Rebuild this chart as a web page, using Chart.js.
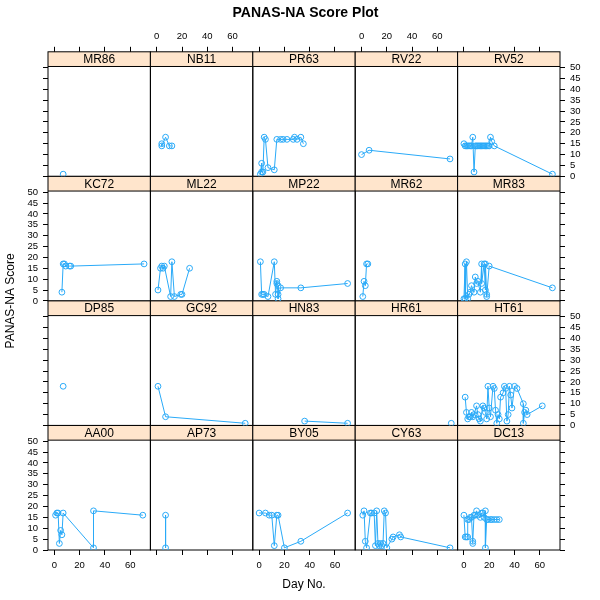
<!DOCTYPE html>
<html>
<head>
<meta charset="utf-8">
<title>PANAS-NA Score Plot</title>
<script src="https://cdn.jsdelivr.net/npm/chart.js@4.4.1/dist/chart.umd.min.js"></script>
<style>
  html, body { margin: 0; padding: 0; background: #fff; }
  #wrap { width: 600px; height: 600px; }
</style>
</head>
<body>
<div id="wrap"><canvas id="panasChart" width="600" height="600"></canvas></div>
<script>
// --- Data: one panel per subject, listed top row first, left to right
const subjects = [
  'MR86', 'NB11', 'PR63', 'RV22', 'RV52',
  'KC72', 'ML22', 'MP22', 'MR62', 'MR83',
  'DP85', 'GC92', 'HN83', 'HR61', 'HT61',
  'AA00', 'AP73', 'BY05', 'CY63', 'DC13'
];

const dayNo = [
  [7],
  [4, 4, 7, 10, 12],
  [1, 2, 2, 3, 4, 5, 7, 12, 14, 17, 19, 22, 27, 28, 30, 33, 35],
  [0, 6, 70],
  [0, 1, 2, 3, 4, 5, 6, 7, 8, 9, 10, 11, 12, 13, 14, 15, 16, 17, 18, 19, 20, 21, 22, 24, 70],
  [6, 7, 8, 9, 12, 13, 71],
  [1, 3, 4, 5, 6, 11, 12, 14, 19, 20, 26],
  [1, 2, 3, 4, 7, 12, 13, 14, 14, 15, 15, 15, 17, 33, 70],
  [1, 2, 3, 4, 5],
  [0, 1, 1, 2, 3, 4, 5, 6, 8, 9, 10, 11, 13, 14, 14, 16, 17, 17, 18, 18, 20, 70],
  [7],
  [1, 7, 70],
  [36, 70],
  [71],
  [1, 2, 3, 4, 5, 6, 7, 8, 10, 11, 12, 13, 15, 16, 17, 18, 19, 20, 21, 23, 24, 25, 26, 27, 28, 29, 31, 32, 33, 34, 35, 36, 37, 38, 40, 42, 47, 47, 48, 49, 50, 62],
  [1, 2, 3, 4, 5, 6, 7, 31, 31, 70],
  [7, 7],
  [0, 5, 8, 10, 12, 14, 15, 20, 33, 70],
  [1, 2, 3, 4, 7, 8, 10, 11, 12, 13, 14, 15, 16, 17, 18, 19, 20, 24, 25, 30, 31, 70],
  [0, 1, 2, 3, 3, 4, 5, 6, 7, 7, 8, 9, 10, 11, 13, 14, 15, 16, 17, 17, 18, 19, 21, 22, 24, 26, 28]
];

const naScore = [
  [1],
  [15, 14, 18, 14, 14],
  [1, 6, 2, 2, 18, 17, 4, 3, 17, 17, 17, 17, 17, 18, 17, 18, 15],
  [10, 12, 8],
  [15, 14, 14, 14, 14, 14, 14, 18, 2, 14, 14, 14, 14, 14, 14, 14, 14, 14, 14, 14, 14, 18, 16, 14, 1],
  [4, 17, 17, 16, 16, 16, 17],
  [5, 15, 16, 15, 16, 2, 18, 2, 3, 3, 15],
  [18, 3, 3, 3, 2, 18, 3, 9, 8, 7, 3, 1, 6, 6, 8],
  [2, 9, 7, 17, 17],
  [1, 17, 1, 18, 1, 3, 4, 7, 4, 11, 8, 9, 4, 17, 8, 17, 5, 17, 3, 2, 16, 6],
  [18],
  [18, 4, 1],
  [2, 1],
  [1],
  [13, 6, 3, 4, 4, 6, 4, 5, 9, 5, 3, 2, 9, 8, 6, 3, 18, 8, 4, 18, 17, 7, 1, 5, 3, 13, 15, 18, 17, 2, 5, 18, 14, 8, 18, 17, 10, 1, 6, 7, 5, 9],
  [16, 17, 17, 3, 9, 7, 17, 1, 18, 16],
  [16, 1],
  [17, 17, 16, 16, 2, 16, 16, 1, 4, 17],
  [16, 18, 4, 1, 17, 17, 17, 2, 18, 3, 2, 3, 2, 3, 18, 17, 1, 5, 6, 7, 6, 1],
  [16, 6, 6, 6, 14, 14, 15, 15, 3, 4, 16, 16, 18, 16, 15, 17, 17, 15, 18, 1, 14, 14, 14, 14, 14, 14, 14]
];

const xTicks = [0, 20, 40, 60];
const yTicks = [0, 5, 10, 15, 20, 25, 30, 35, 40, 45, 50];

// --- Layout constants
const COLS = 5, ROWS = 4;
const X_MIN = -5, X_MAX = 76;
const PLOT_TOP = 50.5;                 // top of the plotting region in score units
const STRIP_FRAC = 14.7 / 124.6;       // share of each row taken by the strip
const Y_MAX = PLOT_TOP / (1 - STRIP_FRAC);
const LINE_COLOR = '#2aaaf8';
const STRIP_COLOR = '#ffe5cc';
const FRAME_COLOR = '#000';

Chart.defaults.font.family = "'Liberation Sans', Arial, Helvetica, sans-serif";
Chart.defaults.color = '#000';

const tickFont = { size: 9.5 };

function xScale(pos, c) {
  const showLabels = pos === 'top' ? c % 2 === 1 : c % 2 === 0;
  return {
    type: 'linear', axis: 'x', position: pos, stack: pos, stackWeight: 1,
    min: X_MIN, max: X_MAX, bounds: 'data',
    grid: { drawOnChartArea: false, drawTicks: true, tickLength: 5, color: FRAME_COLOR },
    border: { display: false },
    ticks: { display: showLabels, font: tickFont, color: '#000', padding: 5, maxRotation: 0, autoSkip: false },
    title: {
      display: pos === 'bottom' && c === 2,
      text: 'Day No.', font: { size: 12 }, color: '#000', padding: { top: 4, bottom: 4 }
    },
    afterBuildTicks: s => { s.ticks = xTicks.map(v => ({ value: v })); },
    afterFit: s => { s.height = pos === 'top' ? 26 : 46; }
  };
}

function yScale(pos, r) {
  const showLabels = pos === 'left' ? r % 2 === 1 : r % 2 === 0;
  return {
    type: 'linear', axis: 'y', position: pos, stack: pos, stackWeight: 1,
    min: 0, max: Y_MAX, bounds: 'data',
    grid: { drawOnChartArea: false, drawTicks: true, tickLength: 5, color: FRAME_COLOR },
    border: { display: false },
    ticks: { display: showLabels, font: tickFont, color: '#000', padding: 5, autoSkip: false },
    afterBuildTicks: s => { s.ticks = yTicks.map(v => ({ value: v })); },
    afterFit: s => { s.width = pos === 'left' ? 22 : 25; }
  };
}

const scales = {};
for (let c = 0; c < COLS; c++) scales['xb' + c] = xScale('bottom', c);
for (let c = 0; c < COLS; c++) scales['xt' + c] = xScale('top', c);
// left-side boxes get stacked in reverse order, so add them bottom row first
for (let r = ROWS - 1; r >= 0; r--) scales['yl' + r] = yScale('left', r);
for (let r = 0; r < ROWS; r++) scales['yr' + r] = yScale('right', r);

const datasets = subjects.map((name, i) => ({
  label: name,
  data: dayNo[i].map((d, k) => ({ x: d, y: naScore[i][k] })),
  xAxisID: 'xb' + (i % COLS),
  yAxisID: 'yr' + Math.floor(i / COLS),
  borderColor: LINE_COLOR,
  borderWidth: 1,
  tension: 0,
  fill: false,
  pointStyle: 'circle',
  pointRadius: 2.9,
  pointBorderWidth: 1,
  pointBorderColor: LINE_COLOR,
  pointBackgroundColor: 'rgba(0,0,0,0)'
}));

// strips, panel frames and the left axis label
const panelFrame = {
  id: 'panelFrame',
  beforeDatasetsDraw(chart) {
    const ctx = chart.ctx;
    const sc = chart.scales;
    ctx.save();
    ctx.lineWidth = 1;
    ctx.strokeStyle = FRAME_COLOR;
    for (let r = 0; r < ROWS; r++) {
      const ys = sc['yr' + r];
      const stripBottom = ys.getPixelForValue(PLOT_TOP);
      for (let c = 0; c < COLS; c++) {
        const xs = sc['xb' + c];
        ctx.fillStyle = STRIP_COLOR;
        ctx.fillRect(xs.left, ys.top, xs.right - xs.left, stripBottom - ys.top);
        ctx.strokeRect(xs.left, ys.top, xs.right - xs.left, ys.bottom - ys.top);
        ctx.beginPath();
        ctx.moveTo(xs.left, stripBottom);
        ctx.lineTo(xs.right, stripBottom);
        ctx.stroke();
        ctx.fillStyle = '#000';
        ctx.font = "12px 'Liberation Sans', Arial, sans-serif";
        ctx.textAlign = 'center';
        ctx.textBaseline = 'middle';
        ctx.fillText(subjects[r * COLS + c], (xs.left + xs.right) / 2, (ys.top + stripBottom) / 2 + 0.5);
      }
    }
    const area = chart.chartArea;
    ctx.translate(11, (area.top + area.bottom) / 2);
    ctx.rotate(-Math.PI / 2);
    ctx.fillText('PANAS-NA Score', 0, 0);
    ctx.restore();
  }
};

document.addEventListener('DOMContentLoaded', () => {
  new Chart(document.getElementById('panasChart').getContext('2d'), {
    type: 'line',
    data: { datasets },
    options: {
      responsive: false,
      animation: false,
      layout: { padding: { left: 26, right: 15, top: 0, bottom: 4 } },
      plugins: {
        legend: { display: false },
        tooltip: { enabled: false },
        title: {
          display: true, text: 'PANAS-NA Score Plot', color: '#000',
          font: { size: 14, weight: 'bold' }, padding: { top: 5, bottom: 4 }
        }
      },
      scales
    },
    plugins: [panelFrame]
  });
});
</script>
</body>
</html>
